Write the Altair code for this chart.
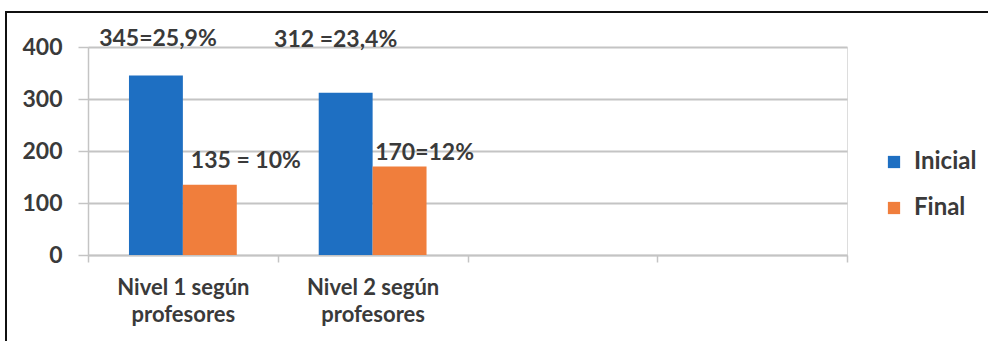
import altair as alt
import pandas as pd

# Values per category and series
categorias = ["Nivel 1 según profesores", "Nivel 2 según profesores"]
huecos = [" ", "  "]  # two empty category slots on the axis
series = ["Inicial", "Final"]
inicial = [345, 312]
final = [135, 170]
etiquetas_inicial = ["345=25,9%", "312 =23,4%"]
etiquetas_final = ["135 = 10%", "170=12%"]

colores = ["#1E6FC2", "#F07E3C"]
texto = "#3a3a3a"
gris = "#c4c4c4"
fuente = "Lato"

filas = []
for i, cat in enumerate(categorias):
    filas.append({"categoria": cat, "serie": "Inicial", "valor": inicial[i],
                  "etiqueta": etiquetas_inicial[i], "k": 2 * i})
    filas.append({"categoria": cat, "serie": "Final", "valor": final[i],
                  "etiqueta": etiquetas_final[i], "k": 2 * i + 1})
df = pd.DataFrame(filas)

x = alt.X(
    "categoria:N",
    sort=categorias + huecos,
    scale=alt.Scale(domain=categorias + huecos, paddingInner=0, paddingOuter=0),
    axis=alt.Axis(
        title=None, labelAngle=0, tickBand="extent", grid=False,
        domainColor=gris, domainWidth=1.5, tickColor=gris, tickWidth=1.5, tickSize=7,
        labelFont=fuente, labelFontSize=22, labelFontWeight="bold",
        labelColor=texto, labelPadding=15,
        labelLineHeight=27, labelBaseline="top",
        labelExpr="split(replace(datum.label, 'según ', 'según|'), '|')",
    ),
)
xo = alt.XOffset("serie:N", sort=series,
                 scale=alt.Scale(domain=series, paddingInner=0, paddingOuter=0.76))
y = alt.Y(
    "valor:Q",
    scale=alt.Scale(domain=[0, 400], nice=False),
    axis=alt.Axis(
        title=None, values=[0, 100, 200, 300, 400], grid=True, gridColor=gris,
        gridWidth=1.8, domainColor=gris, domainWidth=1.5, tickColor=gris,
        tickWidth=1.5, tickSize=10, labelFont=fuente, labelFontSize=23,
        labelColor=texto, labelPadding=16, labelFontWeight="bold",
    ),
)

barras = alt.Chart(df).mark_bar().encode(
    x=x, xOffset=xo, y=y,
    color=alt.Color(
        "serie:N", sort=series,
        scale=alt.Scale(domain=series, range=colores),
        legend=alt.Legend(
            title=None, orient="none", legendX=794, legendY=103,
            symbolType="square", symbolSize=150, symbolStrokeWidth=0,
            symbolOpacity=1, labelFont=fuente, labelFontSize=24,
            labelFontWeight="bold", labelColor=texto, rowPadding=22,
            labelOffset=8,
        ),
    ),
)

# Hand-placed value labels (dx, dy in pixels) for each bar
desplazamientos = {0: (2, -37), 1: (36, -24), 2: (-10, -53), 3: (25, -14)}
capas = [barras]
for k, (ddx, ddy) in desplazamientos.items():
    capas.append(
        alt.Chart(df).transform_filter(alt.datum.k == k).mark_text(
            font=fuente, fontSize=23, fontWeight="bold", color=texto,
            dx=ddx, dy=ddy, baseline="middle",
        ).encode(x=x, xOffset=xo, y=y, text="etiqueta:N")
    )

# Outer frame around the figure
marco = alt.Chart(df).mark_rect(fill=None, stroke="#111111", strokeWidth=1.6).encode(
    x=alt.value(-82), x2=alt.value(930), y=alt.value(-35), y2=alt.value(320)
)
capas.append(marco)

chart = alt.layer(*capas).properties(
    width=759, height=208,
    autosize=alt.AutoSizeParams(type="none"),
    padding={"left": 88, "top": 47, "right": 141, "bottom": 86},
).configure_view(stroke=None).configure(background="white")

chart.save("out.html", embed_options={"renderer": "svg", "actions": False})
